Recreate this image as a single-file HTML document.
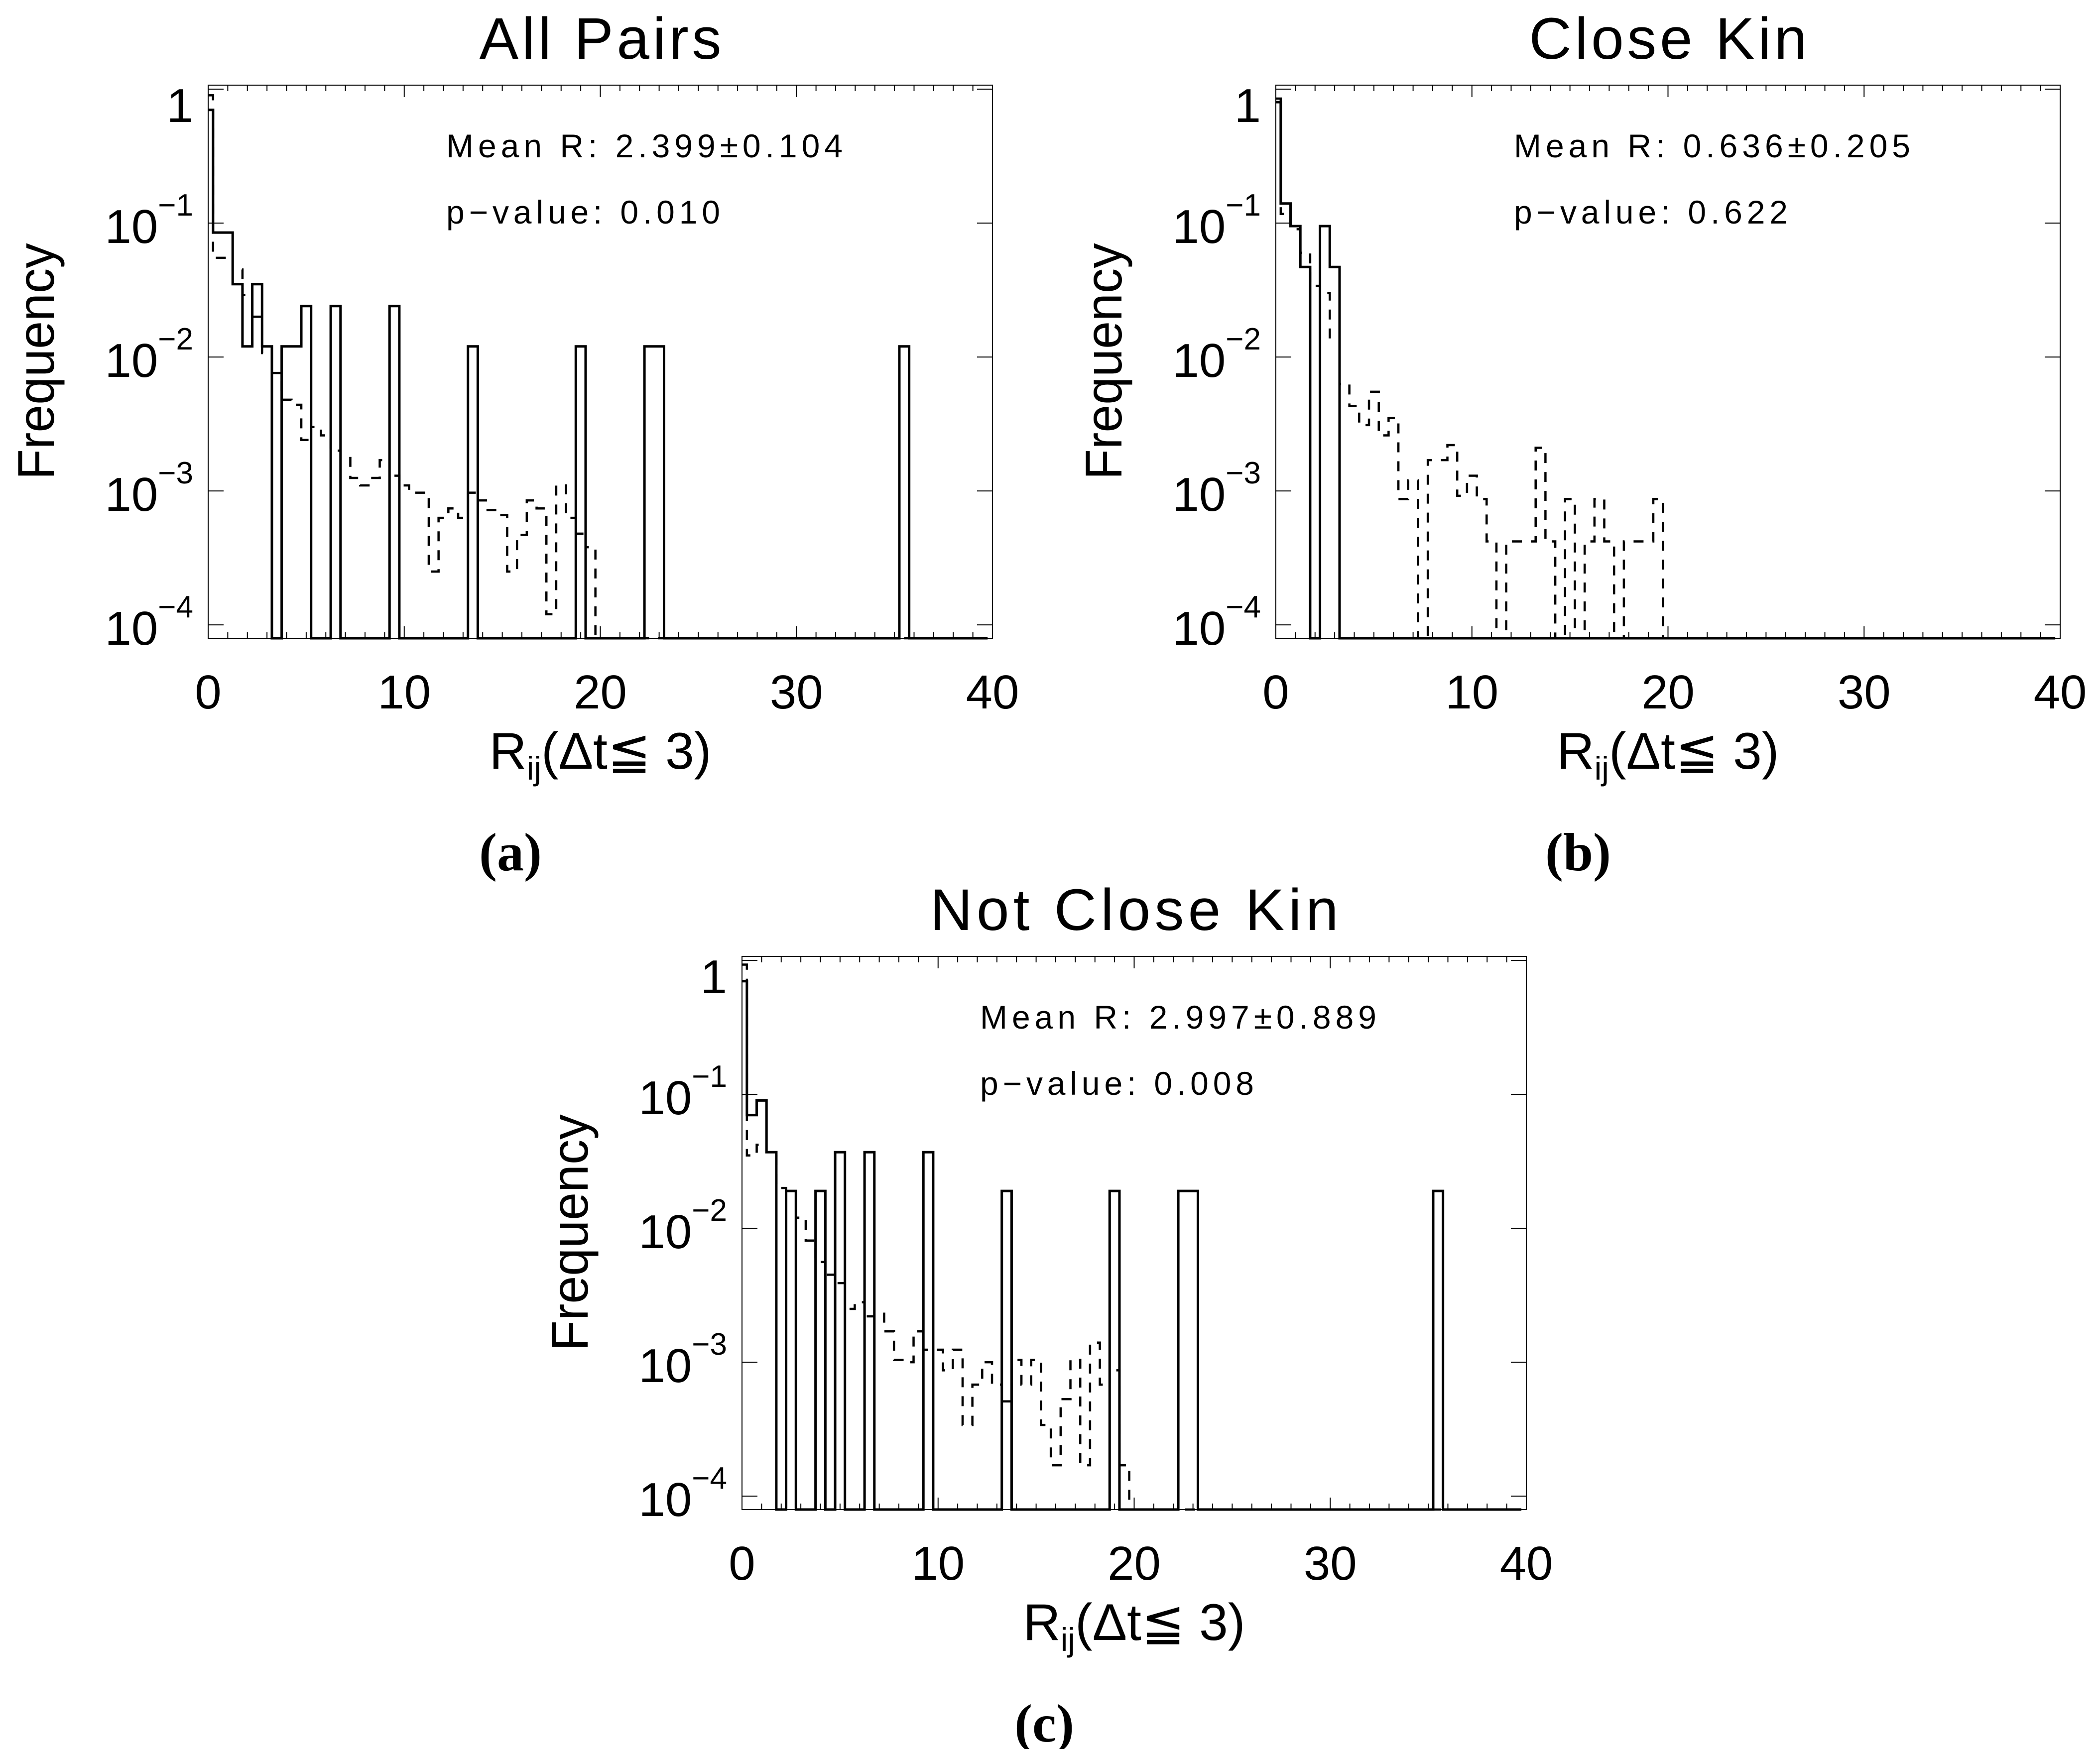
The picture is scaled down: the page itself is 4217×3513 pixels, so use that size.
<!DOCTYPE html>
<html><head><meta charset="utf-8"><style>
html,body{margin:0;padding:0;background:#fff;}
svg{display:block;}
text{font-family:"Liberation Sans",sans-serif;fill:#000;}
.cap{font-family:"Liberation Serif",serif;font-weight:bold;}
</style></head><body>
<svg id="fig" width="4217" height="3513" viewBox="0 0 4217 3513" xmlns="http://www.w3.org/2000/svg"></svg>
<script>
// ---- data (bin centers 0,0.5,...,39.5; value per bin) ----
const xTicks = [0,10,20,30,40];
const yTickExp = [0,-1,-2,-3,-4];
const titles = ["All Pairs","Close Kin","Not Close Kin"];
const meanTexts = ["Mean R: 2.399\u00b10.104","Mean R: 0.636\u00b10.205","Mean R: 2.997\u00b10.889"];
const pTexts = ["p\u2212value: 0.010","p\u2212value: 0.622","p\u2212value: 0.008"];
const captions = ["(a)","(b)","(c)"];
const solidA_x = [0,0.5,1,1.5,2,2.5,3,4,4.5,5,6.5,9.5,13.5,19,22.5,23,35.5];
const solidA_y = [0.7,0.085,0.085,0.035,0.012,0.035,0.012,0.012,0.012,0.024,0.024,0.024,0.012,0.012,0.012,0.012,0.012];
const dashA_x = [0,0.5,1,1.5,2,2.5,3,3.5,4,4.5,5,5.5,6,6.5,7,7.5,8,8.5,9,9.5,10,10.5,11,11.5,12,12.5,13,13.5,14,14.5,15,15.5,16,16.5,17,17.5,18,18.5,19,19.5];
const dashA_y = [0.9,0.055,0.055,0.045,0.029,0.02,0.0107,0.0076,0.0048,0.0044,0.0024,0.003,0.0026,0.002,0.0018,0.00125,0.0011,0.00125,0.0017,0.0013,0.0011,0.00097,0.00097,0.00025,0.00063,0.00074,0.00063,0.00097,0.00085,0.00072,0.00066,0.00025,0.00047,0.00085,0.00074,0.00012,0.0011,0.00063,0.00048,0.00038];
const solidB_x = [0,0.5,1,1.5,2.5,3];
const solidB_y = [0.8,0.14,0.095,0.047,0.095,0.047];
const dashB_x = [0,0.5,1,1.5,2,2.5,3,3.5,4,4.5,5,5.5,6,6.5,7,8,8.5,9,9.5,10,10.5,11,12,12.5,13,13.5,14,15,16,16.5,17,18,18.5,19,19.5];
const dashB_y = [0.85,0.117,0.09,0.06,0.034,0.03,0.0137,0.0063,0.0043,0.0031,0.0055,0.0026,0.0035,0.00087,0.0012,0.0017,0.0017,0.0022,0.00092,0.0013,0.00087,0.00042,0.00042,0.00042,0.00042,0.0021,0.00042,0.00087,0.00042,0.00087,0.00042,0.00042,0.00042,0.00042,0.00087];
const solidC_x = [0,0.5,1,1.5,2.5,4,5,6.5,9.5,13.5,19,22.5,23,35.5];
const solidC_y = [0.7,0.07,0.09,0.037,0.019,0.019,0.037,0.037,0.037,0.019,0.019,0.019,0.019,0.019];
const dashC_x = [0,0.5,1,1.5,2,2.5,3,3.5,4,4.5,5,5.5,6,6.5,7,7.5,8,8.5,9,9.5,10,10.5,11,11.5,12,12.5,13,13.5,14,14.5,15,15.5,16,16.5,17,17.5,18,18.5,19,19.5];
const dashC_y = [0.93,0.035,0.042,0.037,0.02,0.019,0.012,0.0081,0.0056,0.0045,0.0039,0.0025,0.0028,0.0022,0.0023,0.0017,0.00104,0.001,0.0017,0.00124,0.00124,0.00087,0.00124,0.00034,0.00068,0.001,0.00068,0.00051,0.00104,0.00068,0.00104,0.00034,0.00017,0.00053,0.00104,0.00017,0.0014,0.00068,0.00087,0.00017];

const titleLen = [486,558,820];
const meanLen = [796,796,796];
const pLen = [550,550,550];

const NS = "http://www.w3.org/2000/svg";
const svg = document.getElementById('fig');
function mk(tag, attrs, parent){const e=document.createElementNS(NS,tag);for(const k in attrs)e.setAttribute(k,attrs[k]);(parent||svg).appendChild(e);return e;}

const W = 1575, H = 1111, LMIN = -4.1, LMAX = 0.03, XMAX = 40;
const panels = [
  {x0:418, y0:171, sx:solidA_x, sy:solidA_y, dx:dashA_x, dy:dashA_y},
  {x0:2562, y0:171, sx:solidB_x, sy:solidB_y, dx:dashB_x, dy:dashB_y},
  {x0:1490, y0:1921, sx:solidC_x, sy:solidC_y, dx:dashC_x, dy:dashC_y}
];

function stepPath(cx, cy, X, Y){
  const vals = {};
  cx.forEach((c,i)=>{vals[c]=cy[i];});
  let d = "";
  for(let k=0;k<80;k++){
    const c = k*0.5;
    const v = vals[c]||0;
    const xl = X(Math.max(0,c-0.25)), xr = X(Math.min(39.75,c+0.25));
    const y = Y(v);
    d += (k===0? "M"+xl+","+y : " L"+xl+","+y) + " L"+xr+","+y;
  }
  return d;
}

panels.forEach((p,pi)=>{
  const g = mk('g',{});
  
  
  const X = v => p.x0 + v/XMAX*W;
  const Y = v => { let l = v>0 ? Math.log10(v) : LMIN; l = Math.max(LMIN, Math.min(LMAX,l)); return p.y0 + (LMAX-l)/(LMAX-LMIN)*H; };
  const bottom = p.y0+H;
  const frame = mk('rect',{x:p.x0,y:p.y0,width:W,height:H,fill:'none',stroke:'#000','stroke-width':2},g);
  
  
  for(let t=1;t<XMAX;t++){
    const len = t%10===0?24:12;
    mk('line',{x1:X(t),y1:bottom,x2:X(t),y2:bottom-len,stroke:'#000','stroke-width':2},g);
    mk('line',{x1:X(t),y1:p.y0,x2:X(t),y2:p.y0+len,stroke:'#000','stroke-width':2},g);
  }
  xTicks.forEach(t=>{
    const tx = mk('text',{x:X(t),y:bottom+141,'font-size':96,'text-anchor':'middle'},g);
    tx.textContent = String(t);
    
    
  });
  yTickExp.forEach(e=>{
    const ty = Y(Math.pow(10,e));
    mk('line',{x1:p.x0,y1:ty,x2:p.x0+31,y2:ty,stroke:'#000','stroke-width':2},g);
    mk('line',{x1:p.x0+W,y1:ty,x2:p.x0+W-31,y2:ty,stroke:'#000','stroke-width':2},g);
    const lab = mk('text',{x:p.x0-30,y:ty+40,'font-size':96,'text-anchor':'end'},g);
    
    
    if(e===0){ lab.textContent='1'; lab.setAttribute('y', ty+66); }
    else {
      const t1 = mk('tspan',{},lab); t1.textContent='10';
      const t2 = mk('tspan',{dy:-55,'font-size':62}, lab); t2.textContent='\u2212'+(-e);
    }
  });
  const sp = mk('path',{d:stepPath(p.sx,p.sy,X,Y),fill:'none',stroke:'#000','stroke-width':5,'stroke-linejoin':'miter'},g);
  
  
  const dp = mk('path',{d:stepPath(p.dx,p.dy,X,Y),fill:'none',stroke:'#000','stroke-width':4.5,'stroke-dasharray':'20 18'},g);
  
  
  const cx = p.x0+W/2;
  const tt = mk('text',{x:cx-titleLen[pi]/2,y:p.y0-53,'font-size':118,textLength:titleLen[pi],lengthAdjust:'spacing'},g);
  tt.textContent = titles[pi];
  
  
  const m = mk('text',{x:p.x0+478,y:p.y0+145,'font-size':66,textLength:meanLen[pi],lengthAdjust:'spacing'},g);
  m.textContent = meanTexts[pi];
  
  
  const pv = mk('text',{x:p.x0+478,y:p.y0+278,'font-size':66,textLength:pLen[pi],lengthAdjust:'spacing'},g);
  pv.textContent = pTexts[pi];
  
  
  const yl = mk('text',{x:-237,y:0,'font-size':104,textLength:475,lengthAdjust:'spacingAndGlyphs',transform:'translate('+(p.x0-310)+','+(p.y0+H/2)+') rotate(-90)'},g);
  yl.textContent = 'Frequency';
  
  
  const xl = mk('text',{x:cx,y:bottom+262,'font-size':104,'text-anchor':'middle'},g);
  
  
  const a1 = mk('tspan',{},xl); a1.textContent='R';
  const a2 = mk('tspan',{dy:22,'font-size':66},xl); a2.textContent='ij';
  const a3 = mk('tspan',{dy:-22},xl); a3.textContent='(\u0394t\u2266 3)';
  const cp = mk('text',{x:p.x0+607,y:bottom+466,'font-size':108,'text-anchor':'middle','class':'cap'},g);
  cp.textContent = captions[pi];
  
  
});
</script>
</body></html>
